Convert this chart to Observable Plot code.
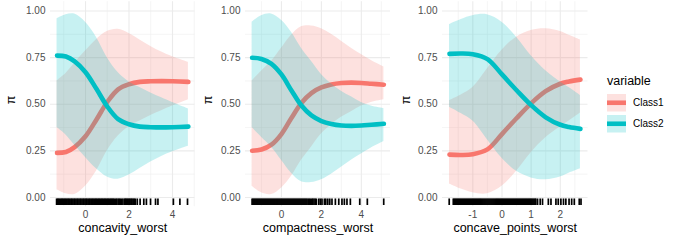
<!DOCTYPE html>
<html><head><meta charset="utf-8">
<script src="https://cdn.jsdelivr.net/npm/d3@7"></script>
<script src="https://cdn.jsdelivr.net/npm/@observablehq/plot@0.6"></script>
<style>
body{margin:0;background:#fff;font-family:"Liberation Sans",Arial,sans-serif;}
#wrap{position:relative;width:683px;height:240px;overflow:hidden;background:#fff;}
.panel{position:absolute;top:0;}
.lg{position:absolute;color:#000;white-space:nowrap;}
</style></head><body><div id="wrap"></div>
<script>
// ---------- data ----------
const classes = ["Class1", "Class2"];
const colors = ["#F8766D", "#00BFC4"];
const yTicks = [0, 0.25, 0.5, 0.75, 1];
const yMinor = [0.125, 0.375, 0.625, 0.875];

// panel 1: concavity_worst
const p1Name = "concavity_worst";
const p1X   = [-1.31, -0.9, -0.5, 0, 0.5, 1, 1.5, 2, 2.5, 3, 3.5, 4, 4.73];
const p1M1  = [0.239, 0.244, 0.27, 0.328, 0.417, 0.512, 0.58, 0.607, 0.62, 0.623, 0.624, 0.623, 0.62];
const p1L1  = [0.042, 0.02, 0.016, 0.06, 0.14, 0.25, 0.33, 0.38, 0.41, 0.44, 0.465, 0.49, 0.524];
const p1H1  = [0.625, 0.665, 0.72, 0.785, 0.846, 0.89, 0.902, 0.88, 0.845, 0.81, 0.78, 0.755, 0.725];
const p1M2  = [0.761, 0.756, 0.73, 0.672, 0.583, 0.488, 0.42, 0.393, 0.38, 0.377, 0.376, 0.377, 0.38];
const p1L2  = [0.375, 0.335, 0.28, 0.215, 0.154, 0.11, 0.098, 0.12, 0.155, 0.19, 0.22, 0.245, 0.275];
const p1H2  = [0.958, 0.98, 0.984, 0.94, 0.86, 0.75, 0.67, 0.62, 0.59, 0.56, 0.535, 0.51, 0.476];
const p1Rug = [-1.33,-1.28,-1.24,-1.19,-1.14,-1.09,-1.05,-1.00,-0.95,-0.91,-0.86,-0.81,-0.77,-0.72,-0.67,-0.63,-0.58,-0.53,-0.49,-0.44,-0.39,-0.35,-0.30,-0.25,-0.21,-0.16,-0.11,-0.07,-0.02,0.03,0.07,0.12,0.17,0.21,0.26,0.31,0.35,0.40,0.45,0.49,0.54,0.59,0.63,0.68,0.73,0.77,0.82,0.87,0.91,0.96,1.01,1.05,1.10,1.15,1.19,1.24,1.28,1.33,1.39,1.44,1.50,1.55,1.60,1.66,1.72,1.79,1.83,1.87,1.92,1.96,2.01,2.05,2.10,2.14,2.19,2.24,2.29,2.38,2.51,2.68,2.80,2.99,3.22,3.33,4.04,4.34,4.69];
const p1Ticks = [0, 2, 4];
const p1Minor = [-1, 1, 3, 5];

// panel 2: compactness_worst
const p2Name = "compactness_worst";
const p2X   = [-1.47, -1, -0.5, 0, 0.5, 1, 1.5, 2, 2.5, 3, 3.5, 4, 4.5, 5.13];
const p2M1  = [0.251, 0.257, 0.283, 0.34, 0.426, 0.507, 0.56, 0.59, 0.606, 0.614, 0.616, 0.614, 0.61, 0.605];
const p2L1  = [0.06, 0.025, 0.016, 0.05, 0.114, 0.2, 0.27, 0.34, 0.39, 0.43, 0.46, 0.49, 0.51, 0.524];
const p2H1  = [0.625, 0.677, 0.73, 0.80, 0.87, 0.915, 0.92, 0.905, 0.875, 0.838, 0.80, 0.767, 0.735, 0.70];
const p2M2  = [0.749, 0.743, 0.717, 0.66, 0.574, 0.493, 0.44, 0.41, 0.394, 0.386, 0.384, 0.386, 0.39, 0.395];
const p2L2  = [0.375, 0.323, 0.27, 0.20, 0.13, 0.085, 0.08, 0.095, 0.125, 0.162, 0.20, 0.233, 0.265, 0.30];
const p2H2  = [0.94, 0.975, 0.984, 0.95, 0.886, 0.80, 0.73, 0.66, 0.61, 0.57, 0.54, 0.51, 0.49, 0.476];
const p2Rug = [-1.47,-1.42,-1.37,-1.32,-1.27,-1.22,-1.17,-1.12,-1.07,-1.02,-0.97,-0.92,-0.87,-0.82,-0.77,-0.72,-0.67,-0.62,-0.57,-0.52,-0.47,-0.42,-0.37,-0.32,-0.27,-0.22,-0.17,-0.12,-0.07,-0.02,0.03,0.08,0.13,0.18,0.23,0.28,0.33,0.38,0.43,0.48,0.53,0.58,0.63,0.68,0.73,0.78,0.83,0.88,0.93,0.98,1.03,1.08,1.13,1.18,1.23,1.28,1.34,1.40,1.45,1.52,1.57,1.63,1.69,1.75,1.87,1.95,2.03,2.15,2.22,2.32,2.42,2.53,2.70,2.87,3.03,3.15,3.28,3.45,3.92,4.30,5.12];
const p2Ticks = [0, 2, 4];
const p2Minor = [-1, 1, 3, 5];

// panel 3: concave_points_worst
const p3Name = "concave_points_worst";
const p3X   = [-1.8, -1.4, -1, -0.5, 0, 0.5, 1, 1.5, 2, 2.3, 2.69];
const p3M1  = [0.23, 0.228, 0.232, 0.258, 0.34, 0.425, 0.505, 0.57, 0.61, 0.622, 0.632];
const p3L1  = [0.072, 0.045, 0.025, 0.02, 0.06, 0.14, 0.24, 0.32, 0.38, 0.41, 0.453];
const p3H1  = [0.52, 0.55, 0.59, 0.69, 0.79, 0.86, 0.895, 0.905, 0.89, 0.87, 0.845];
const p3M2  = [0.77, 0.772, 0.768, 0.742, 0.66, 0.575, 0.495, 0.43, 0.39, 0.378, 0.368];
const p3L2  = [0.484, 0.45, 0.41, 0.31, 0.21, 0.14, 0.105, 0.095, 0.11, 0.13, 0.154];
const p3H2  = [0.928, 0.955, 0.975, 0.98, 0.94, 0.86, 0.76, 0.68, 0.62, 0.59, 0.547];
const p3Rug = [-1.81,-1.67,-1.635,-1.60,-1.565,-1.53,-1.495,-1.46,-1.425,-1.39,-1.355,-1.32,-1.285,-1.25,-1.215,-1.18,-1.145,-1.11,-1.075,-1.04,-1.005,-0.97,-0.935,-0.90,-0.865,-0.83,-0.795,-0.76,-0.725,-0.69,-0.655,-0.62,-0.585,-0.55,-0.515,-0.48,-0.445,-0.41,-0.375,-0.34,-0.305,-0.27,-0.235,-0.20,-0.165,-0.13,-0.095,-0.06,-0.025,0.01,0.045,0.08,0.115,0.15,0.185,0.22,0.255,0.29,0.325,0.36,0.395,0.43,0.465,0.50,0.535,0.57,0.605,0.64,0.675,0.71,0.745,0.78,0.815,0.85,0.885,0.92,0.955,0.99,1.025,1.06,1.095,1.13,1.16,1.22,1.31,1.39,1.59,1.68,1.85,1.93,2.02,2.11,2.19,2.30,2.39,2.48,2.65,2.71];
const p3Ticks = [-1, 0, 1, 2];
const p3Minor = [-1.5, -0.5, 0.5, 1.5, 2.5];

// ---------- drawing ----------
const font = '"Liberation Sans", Arial, sans-serif';
const wrap = document.getElementById("wrap");

function panel(cfg) {
  const rows = cfg.xs.map((x, i) => ({x, m1: cfg.m1[i], l1: cfg.l1[i], h1: cfg.h1[i], m2: cfg.m2[i], l2: cfg.l2[i], h2: cfg.h2[i]}));
  const curve = "catmull-rom";
  const svg = Plot.plot({
    width: cfg.width, height: 240,
    marginLeft: cfg.marginLeft, marginRight: cfg.width - cfg.marginLeft - cfg.plotW,
    marginTop: 1.2, marginBottom: 33.7,
    style: {fontFamily: font, fontSize: "10px", color: "#4D4D4D", background: "transparent"},
    x: {domain: cfg.domain, ticks: cfg.ticks, tickSize: 0, tickPadding: 4, tickFormat: d => String(d), label: null},
    y: {domain: [-0.05, 1.05], ticks: yTicks, tickFormat: d3.format(".2f"), tickSize: 0, tickPadding: 5, label: null},
    marks: [
      Plot.ruleY(yMinor, {stroke: "#EFEFEF", strokeWidth: 0.6}),
      Plot.ruleX(cfg.minor, {stroke: "#EFEFEF", strokeWidth: 0.6}),
      Plot.ruleY(yTicks, {stroke: "#EBEBEB", strokeWidth: 1.1}),
      Plot.ruleX(cfg.ticks, {stroke: "#EBEBEB", strokeWidth: 1.1}),
      Plot.areaY(rows, {x: "x", y1: "l1", y2: "h1", fill: colors[0], fillOpacity: 0.22, curve}),
      Plot.line(rows, {x: "x", y: "m1", stroke: colors[0], strokeWidth: 4.6, curve}),
      Plot.areaY(rows, {x: "x", y1: "l2", y2: "h2", fill: colors[1], fillOpacity: 0.22, curve}),
      Plot.line(rows, {x: "x", y: "m2", stroke: colors[1], strokeWidth: 4.6, curve}),
      Plot.ruleX(cfg.rug, {x: d => d, y1: -0.008, y2: -0.043, stroke: "#000", strokeWidth: 1.7}),
      Plot.text([cfg.name], {text: d => d, frameAnchor: "bottom", dy: 25.5, fontSize: 12.5, fill: "#000"}),
      Plot.text(["π"], {text: d => d, frameAnchor: "left", dx: -cfg.piOff, rotate: -90, fontSize: 12.5, fill: "#000"})
    ]
  });
  svg.classList.add("panel");
  svg.style.left = cfg.left + "px";
  wrap.appendChild(svg);
}

panel({name: p1Name, xs: p1X, m1: p1M1, l1: p1L1, h1: p1H1, m2: p1M2, l2: p1L2, h2: p1H2, rug: p1Rug,
  ticks: p1Ticks, minor: p1Minor, domain: [-1.61, 5.03], left: 0, width: 197, marginLeft: 50, plotW: 144.4, piOff: 40});
panel({name: p2Name, xs: p2X, m1: p2M1, l1: p2L1, h1: p2H1, m2: p2M2, l2: p2L2, h2: p2H2, rug: p2Rug,
  ticks: p2Ticks, minor: p2Minor, domain: [-1.80, 5.46], left: 195, width: 198, marginLeft: 50, plotW: 145, piOff: 38});
panel({name: p3Name, xs: p3X, m1: p3M1, l1: p3L1, h1: p3H1, m2: p3M2, l2: p3L2, h2: p3H2, rug: p3Rug,
  ticks: p3Ticks, minor: p3Minor, domain: [-2.04, 2.95], left: 391.5, width: 199, marginLeft: 50, plotW: 145.5, piOff: 36.5});

// legend
function addDiv(html, left, top, style) {
  const d = document.createElement("div");
  d.className = "lg";
  d.style.left = left + "px"; d.style.top = top + "px";
  Object.assign(d.style, style || {});
  d.innerHTML = html;
  wrap.appendChild(d);
  return d;
}
addDiv("variable", 607, 73, {fontSize: "12.5px", lineHeight: "16px", fontFamily: font});
classes.forEach((c, i) => {
  const top = 94 + i * 21;
  const key = d3.create("svg").attr("width", 19).attr("height", 17.5)
    .style("position", "absolute").style("left", "607px").style("top", top + "px");
  key.append("rect").attr("width", 19).attr("height", 17.5).attr("fill", colors[i]).attr("fill-opacity", 0.22);
  key.append("line").attr("x1", 0).attr("x2", 19).attr("y1", 8.75).attr("y2", 8.75)
    .attr("stroke", colors[i]).attr("stroke-width", 4.6);
  wrap.appendChild(key.node());
  addDiv(c, 633, top + 2.75, {fontSize: "10px", lineHeight: "12px", fontFamily: font});
});
</script></body></html>
